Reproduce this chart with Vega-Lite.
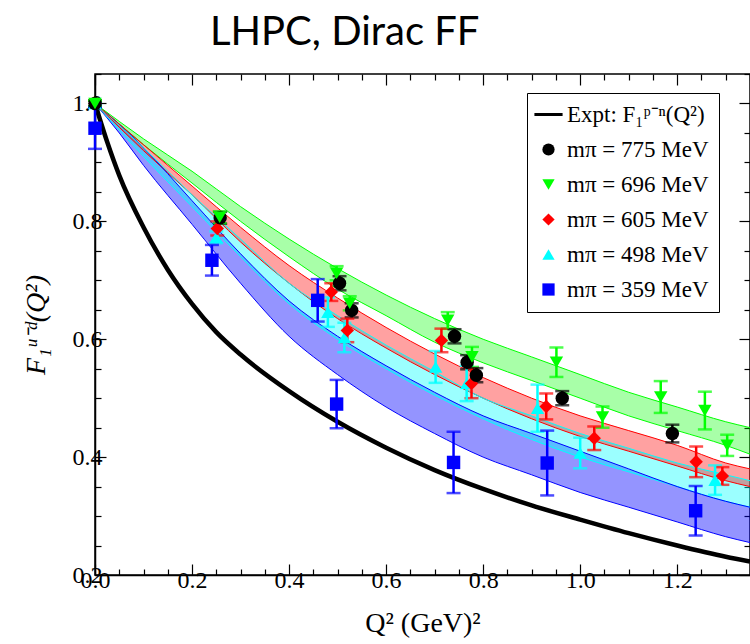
{
  "$schema": "https://vega.github.io/schema/vega-lite/v6.json",
  "autosize": "none",
  "width": 655,
  "height": 501,
  "padding": {"left": 95, "top": 74, "right": 0, "bottom": 69},
  "background": "white",
  "title": {"text": "LHPC, Dirac FF", "anchor": "start", "frame": "group", "dx": 115, "dy": 51, "font": "Lato", "fontSize": 40, "fontWeight": "normal", "color": "black", "baseline": "bottom", "offset": 20},
  "config": {
    "view": {"stroke": "black", "strokeWidth": 1.5},
    "axis": {"domainColor": "black", "domainWidth": 1.5, "tickColor": "black", "tickWidth": 1.2, "labelFont": "Liberation Serif", "labelFontSize": 24, "labelColor": "black", "grid": false, "labelFlush": false, "labelOverlap": false, "titleFont": "Liberation Serif", "titleColor": "black", "titleFontWeight": "normal"}
  },
  "datasets": {
    "bands": [
      {"mpi": "359", "q2": 0, "lo": 1.0, "hi": 1.0},
      {"mpi": "359", "q2": 0.05, "lo": 0.95, "hi": 0.965},
      {"mpi": "359", "q2": 0.1, "lo": 0.895, "hi": 0.925},
      {"mpi": "359", "q2": 0.2, "lo": 0.795, "hi": 0.835},
      {"mpi": "359", "q2": 0.3, "lo": 0.695, "hi": 0.745},
      {"mpi": "359", "q2": 0.4, "lo": 0.605, "hi": 0.665},
      {"mpi": "359", "q2": 0.5, "lo": 0.54, "hi": 0.605},
      {"mpi": "359", "q2": 0.6, "lo": 0.485, "hi": 0.555},
      {"mpi": "359", "q2": 0.7, "lo": 0.44, "hi": 0.51},
      {"mpi": "359", "q2": 0.8, "lo": 0.4, "hi": 0.47},
      {"mpi": "359", "q2": 0.9, "lo": 0.37, "hi": 0.44},
      {"mpi": "359", "q2": 1.0, "lo": 0.34, "hi": 0.41},
      {"mpi": "359", "q2": 1.1, "lo": 0.315, "hi": 0.38},
      {"mpi": "359", "q2": 1.2, "lo": 0.29, "hi": 0.35},
      {"mpi": "359", "q2": 1.3, "lo": 0.265, "hi": 0.325},
      {"mpi": "359", "q2": 1.35, "lo": 0.255, "hi": 0.315},
      {"mpi": "498", "q2": 0, "lo": 1.0, "hi": 1.0},
      {"mpi": "498", "q2": 0.1, "lo": 0.91, "hi": 0.925},
      {"mpi": "498", "q2": 0.2, "lo": 0.825, "hi": 0.845},
      {"mpi": "498", "q2": 0.3, "lo": 0.74, "hi": 0.77},
      {"mpi": "498", "q2": 0.4, "lo": 0.66, "hi": 0.695},
      {"mpi": "498", "q2": 0.5, "lo": 0.6, "hi": 0.64},
      {"mpi": "498", "q2": 0.6, "lo": 0.55, "hi": 0.59},
      {"mpi": "498", "q2": 0.7, "lo": 0.505, "hi": 0.545},
      {"mpi": "498", "q2": 0.8, "lo": 0.465, "hi": 0.5},
      {"mpi": "498", "q2": 0.9, "lo": 0.43, "hi": 0.47},
      {"mpi": "498", "q2": 1.0, "lo": 0.4, "hi": 0.44},
      {"mpi": "498", "q2": 1.1, "lo": 0.375, "hi": 0.415},
      {"mpi": "498", "q2": 1.2, "lo": 0.35, "hi": 0.39},
      {"mpi": "498", "q2": 1.3, "lo": 0.325, "hi": 0.37},
      {"mpi": "498", "q2": 1.35, "lo": 0.315, "hi": 0.36},
      {"mpi": "605", "q2": 0, "lo": 1.0, "hi": 1.0},
      {"mpi": "605", "q2": 0.1, "lo": 0.92, "hi": 0.93},
      {"mpi": "605", "q2": 0.2, "lo": 0.845, "hi": 0.86},
      {"mpi": "605", "q2": 0.3, "lo": 0.765, "hi": 0.79},
      {"mpi": "605", "q2": 0.4, "lo": 0.695, "hi": 0.725},
      {"mpi": "605", "q2": 0.5, "lo": 0.635, "hi": 0.67},
      {"mpi": "605", "q2": 0.6, "lo": 0.585, "hi": 0.62},
      {"mpi": "605", "q2": 0.7, "lo": 0.54, "hi": 0.575},
      {"mpi": "605", "q2": 0.8, "lo": 0.5, "hi": 0.535},
      {"mpi": "605", "q2": 0.9, "lo": 0.465, "hi": 0.5},
      {"mpi": "605", "q2": 1.0, "lo": 0.435, "hi": 0.47},
      {"mpi": "605", "q2": 1.1, "lo": 0.41, "hi": 0.445},
      {"mpi": "605", "q2": 1.2, "lo": 0.385, "hi": 0.42},
      {"mpi": "605", "q2": 1.3, "lo": 0.36, "hi": 0.39},
      {"mpi": "605", "q2": 1.35, "lo": 0.35, "hi": 0.38},
      {"mpi": "696", "q2": 0, "lo": 1.0, "hi": 1.0},
      {"mpi": "696", "q2": 0.1, "lo": 0.93, "hi": 0.94},
      {"mpi": "696", "q2": 0.2, "lo": 0.865, "hi": 0.885},
      {"mpi": "696", "q2": 0.3, "lo": 0.8, "hi": 0.825},
      {"mpi": "696", "q2": 0.4, "lo": 0.74, "hi": 0.77},
      {"mpi": "696", "q2": 0.5, "lo": 0.685, "hi": 0.72},
      {"mpi": "696", "q2": 0.6, "lo": 0.64, "hi": 0.675},
      {"mpi": "696", "q2": 0.7, "lo": 0.595, "hi": 0.635},
      {"mpi": "696", "q2": 0.8, "lo": 0.56, "hi": 0.6},
      {"mpi": "696", "q2": 0.9, "lo": 0.53, "hi": 0.57},
      {"mpi": "696", "q2": 1.0, "lo": 0.5, "hi": 0.54},
      {"mpi": "696", "q2": 1.1, "lo": 0.47, "hi": 0.51},
      {"mpi": "696", "q2": 1.2, "lo": 0.445, "hi": 0.485},
      {"mpi": "696", "q2": 1.3, "lo": 0.42, "hi": 0.46},
      {"mpi": "696", "q2": 1.35, "lo": 0.405, "hi": 0.45}
    ],
    "expt": [
      {"q2": 0, "f": 1.0}, {"q2": 0.025, "f": 0.935}, {"q2": 0.05, "f": 0.878}, {"q2": 0.1, "f": 0.79},
      {"q2": 0.15, "f": 0.718}, {"q2": 0.2, "f": 0.66}, {"q2": 0.25, "f": 0.612}, {"q2": 0.3, "f": 0.574},
      {"q2": 0.4, "f": 0.512}, {"q2": 0.5, "f": 0.46}, {"q2": 0.6, "f": 0.416}, {"q2": 0.7, "f": 0.378},
      {"q2": 0.8, "f": 0.346}, {"q2": 0.9, "f": 0.318}, {"q2": 1.0, "f": 0.294}, {"q2": 1.1, "f": 0.271},
      {"q2": 1.2, "f": 0.25}, {"q2": 1.3, "f": 0.231}, {"q2": 1.35, "f": 0.223}
    ],
    "pts": [
      {"mpi": "359", "q2": 0.0, "f": 0.958, "err": 0.035},
      {"mpi": "359", "q2": 0.241, "f": 0.734, "err": 0.026},
      {"mpi": "359", "q2": 0.459, "f": 0.666, "err": 0.036},
      {"mpi": "359", "q2": 0.498, "f": 0.49, "err": 0.041},
      {"mpi": "359", "q2": 0.739, "f": 0.391, "err": 0.052},
      {"mpi": "359", "q2": 0.932, "f": 0.39, "err": 0.055},
      {"mpi": "359", "q2": 1.238, "f": 0.309, "err": 0.042},
      {"mpi": "498", "q2": 0.0, "f": 1.0, "err": 0.005},
      {"mpi": "498", "q2": 0.25, "f": 0.773, "err": 0.01},
      {"mpi": "498", "q2": 0.48, "f": 0.646, "err": 0.025},
      {"mpi": "498", "q2": 0.514, "f": 0.603, "err": 0.025},
      {"mpi": "498", "q2": 0.702, "f": 0.553, "err": 0.027},
      {"mpi": "498", "q2": 0.766, "f": 0.525, "err": 0.03},
      {"mpi": "498", "q2": 0.912, "f": 0.483, "err": 0.04},
      {"mpi": "498", "q2": 1.0, "f": 0.407, "err": 0.026},
      {"mpi": "498", "q2": 1.278, "f": 0.361, "err": 0.025},
      {"mpi": "605", "q2": 0.0, "f": 1.0, "err": 0.005},
      {"mpi": "605", "q2": 0.252, "f": 0.788, "err": 0.012},
      {"mpi": "605", "q2": 0.487, "f": 0.68, "err": 0.015},
      {"mpi": "605", "q2": 0.52, "f": 0.615, "err": 0.02},
      {"mpi": "605", "q2": 0.714, "f": 0.598, "err": 0.02},
      {"mpi": "605", "q2": 0.776, "f": 0.525, "err": 0.025},
      {"mpi": "605", "q2": 0.93, "f": 0.486, "err": 0.022},
      {"mpi": "605", "q2": 1.029, "f": 0.432, "err": 0.02},
      {"mpi": "605", "q2": 1.239, "f": 0.392, "err": 0.026},
      {"mpi": "605", "q2": 1.293, "f": 0.368, "err": 0.015},
      {"mpi": "775", "q2": 0.0, "f": 1.0, "err": 0.005},
      {"mpi": "775", "q2": 0.258, "f": 0.806, "err": 0.01},
      {"mpi": "775", "q2": 0.504, "f": 0.695, "err": 0.012},
      {"mpi": "775", "q2": 0.529, "f": 0.649, "err": 0.012},
      {"mpi": "775", "q2": 0.741, "f": 0.605, "err": 0.012},
      {"mpi": "775", "q2": 0.767, "f": 0.561, "err": 0.012},
      {"mpi": "775", "q2": 0.786, "f": 0.539, "err": 0.012},
      {"mpi": "775", "q2": 0.963, "f": 0.5, "err": 0.012},
      {"mpi": "775", "q2": 1.19, "f": 0.44, "err": 0.015},
      {"mpi": "696", "q2": 0.0, "f": 1.0, "err": 0.005},
      {"mpi": "696", "q2": 0.257, "f": 0.807, "err": 0.01},
      {"mpi": "696", "q2": 0.498, "f": 0.712, "err": 0.012},
      {"mpi": "696", "q2": 0.525, "f": 0.661, "err": 0.012},
      {"mpi": "696", "q2": 0.727, "f": 0.632, "err": 0.014},
      {"mpi": "696", "q2": 0.777, "f": 0.57, "err": 0.017},
      {"mpi": "696", "q2": 0.951, "f": 0.561, "err": 0.025},
      {"mpi": "696", "q2": 1.046, "f": 0.468, "err": 0.018},
      {"mpi": "696", "q2": 1.166, "f": 0.502, "err": 0.027},
      {"mpi": "696", "q2": 1.257, "f": 0.479, "err": 0.032},
      {"mpi": "696", "q2": 1.303, "f": 0.42, "err": 0.018}
    ]
  },
  "layer": [
    {
      "data": {"name": "bands"},
      "mark": {"type": "area", "interpolate": "monotone"},
      "encoding": {
        "x": {"field": "q2", "type": "quantitative", "scale": {"domain": [0, 1.35], "nice": false, "zero": false}, "axis": null},
        "y": {"field": "lo", "type": "quantitative", "scale": {"domain": [0.2, 1.05], "nice": false, "zero": false}, "axis": null},
        "y2": {"field": "hi"},
        "color": {"field": "mpi", "type": "nominal", "legend": null},
        "opacity": {"field": "mpi", "type": "nominal", "legend": null, "scale": {"domain": ["359", "498", "605", "696"], "range": [0.42, 0.34, 0.24, 0.15]}}
      }
    },
    {
      "data": {"name": "bands"},
      "mark": {"type": "line", "strokeWidth": 1, "interpolate": "monotone"},
      "encoding": {
        "x": {"field": "q2", "type": "quantitative", "axis": null},
        "y": {"field": "lo", "type": "quantitative", "axis": null},
        "color": {"field": "mpi", "type": "nominal", "legend": null}
      }
    },
    {
      "data": {"name": "bands"},
      "mark": {"type": "line", "strokeWidth": 1, "interpolate": "monotone"},
      "encoding": {
        "x": {"field": "q2", "type": "quantitative", "axis": null},
        "y": {"field": "hi", "type": "quantitative", "axis": null},
        "color": {"field": "mpi", "type": "nominal", "legend": null}
      }
    },
    {
      "data": {"name": "expt"},
      "mark": {"type": "line", "strokeWidth": 4.5, "color": "black", "interpolate": "monotone"},
      "encoding": {
        "x": {"field": "q2", "type": "quantitative", "axis": {"orient": "top", "values": [0,0.05,0.1,0.15,0.2,0.25,0.3,0.35,0.4,0.45,0.5,0.55,0.6,0.65,0.7,0.75,0.8,0.85,0.9,0.95,1.0,1.05,1.1,1.15,1.2,1.25,1.3,1.35], "labels": false, "title": null, "domain": false, "tickSize": {"condition": {"test": "abs(datum.value/0.2-round(datum.value/0.2))<1e-6", "value": -11}, "value": -6}}},
        "y": {"field": "f", "type": "quantitative", "axis": {"orient": "right", "values": [0.2,0.25,0.3,0.35,0.4,0.45,0.5,0.55,0.6,0.65,0.7,0.75,0.8,0.85,0.9,0.95,1.0,1.05], "labels": false, "title": null, "domain": false, "tickSize": {"condition": {"test": "abs(datum.value/0.2-round(datum.value/0.2))<1e-6", "value": -11}, "value": -6}}}
      }
    },
    {
      "data": {"name": "pts"},
      "mark": {"type": "errorbar", "ticks": {"size": 14, "thickness": 2.5}, "rule": {"strokeWidth": 2.5}},
      "encoding": {
        "x": {"field": "q2", "type": "quantitative", "axis": null},
        "y": {"field": "f", "type": "quantitative", "axis": null},
        "yError": {"field": "err"},
        "color": {"field": "mpi", "type": "nominal", "legend": null}
      }
    },
    {
      "data": {"name": "pts"},
      "mark": {"type": "point", "filled": true, "opacity": 1, "size": 180},
      "encoding": {
        "x": {"field": "q2", "type": "quantitative", "axis": {"orient": "bottom", "values": [0,0.05,0.1,0.15,0.2,0.25,0.3,0.35,0.4,0.45,0.5,0.55,0.6,0.65,0.7,0.75,0.8,0.85,0.9,0.95,1.0,1.05,1.1,1.15,1.2,1.25,1.3,1.35], "labelExpr": "abs(datum.value/0.2-round(datum.value/0.2))<1e-6 ? format(datum.value, '.1f') : ''", "tickSize": {"condition": {"test": "abs(datum.value/0.2-round(datum.value/0.2))<1e-6", "value": -11}, "value": -6}, "labelPadding": 4, "title": "Q²  (GeV)²", "titleFontSize": 28, "titlePadding": 12}},
        "y": {"field": "f", "type": "quantitative", "axis": {"orient": "left", "values": [0.2,0.25,0.3,0.35,0.4,0.45,0.5,0.55,0.6,0.65,0.7,0.75,0.8,0.85,0.9,0.95,1.0,1.05], "labelExpr": "abs(datum.value/0.2-round(datum.value/0.2))<1e-6 ? format(datum.value, '.1f') : ''", "tickSize": {"condition": {"test": "abs(datum.value/0.2-round(datum.value/0.2))<1e-6", "value": -11}, "value": -6}, "labelPadding": 4, "title": "F₁ᵘ⁻ᵈ(Q²)", "titleFontSize": 28, "titleFontStyle": "italic", "titlePadding": 22}},
        "color": {"field": "mpi", "type": "nominal", "scale": {"domain": ["Expt", "775", "696", "605", "498", "359"], "range": ["#000000", "#000000", "#00ff00", "#ff0000", "#00ffff", "#0000ff"]},
          "legend": {"orient": "none", "legendX": 432, "legendY": 19, "title": null, "strokeColor": "black", "fillColor": "white", "padding": 10, "rowPadding": 11, "symbolSize": 150, "labelOffset": 7, "labelFont": "Liberation Serif", "labelFontSize": 23, "labelColor": "black", "labelLimit": 400,
            "labelExpr": "datum.value === 'Expt' ? 'Expt: F₁ᵖ⁻ⁿ(Q²)' : 'mπ = ' + datum.value + ' MeV'"}},
        "shape": {"field": "mpi", "type": "nominal", "scale": {"domain": ["Expt", "775", "696", "605", "498", "359"], "range": ["M-2.3,-0.25H2.3V0.25H-2.3Z", "circle", "triangle-down", "diamond", "triangle-up", "square"]}}
      }
    }
  ],
  "resolve": {"axis": {"x": "independent", "y": "independent"}, "legend": {"color": "independent", "shape": "independent"}}
}
